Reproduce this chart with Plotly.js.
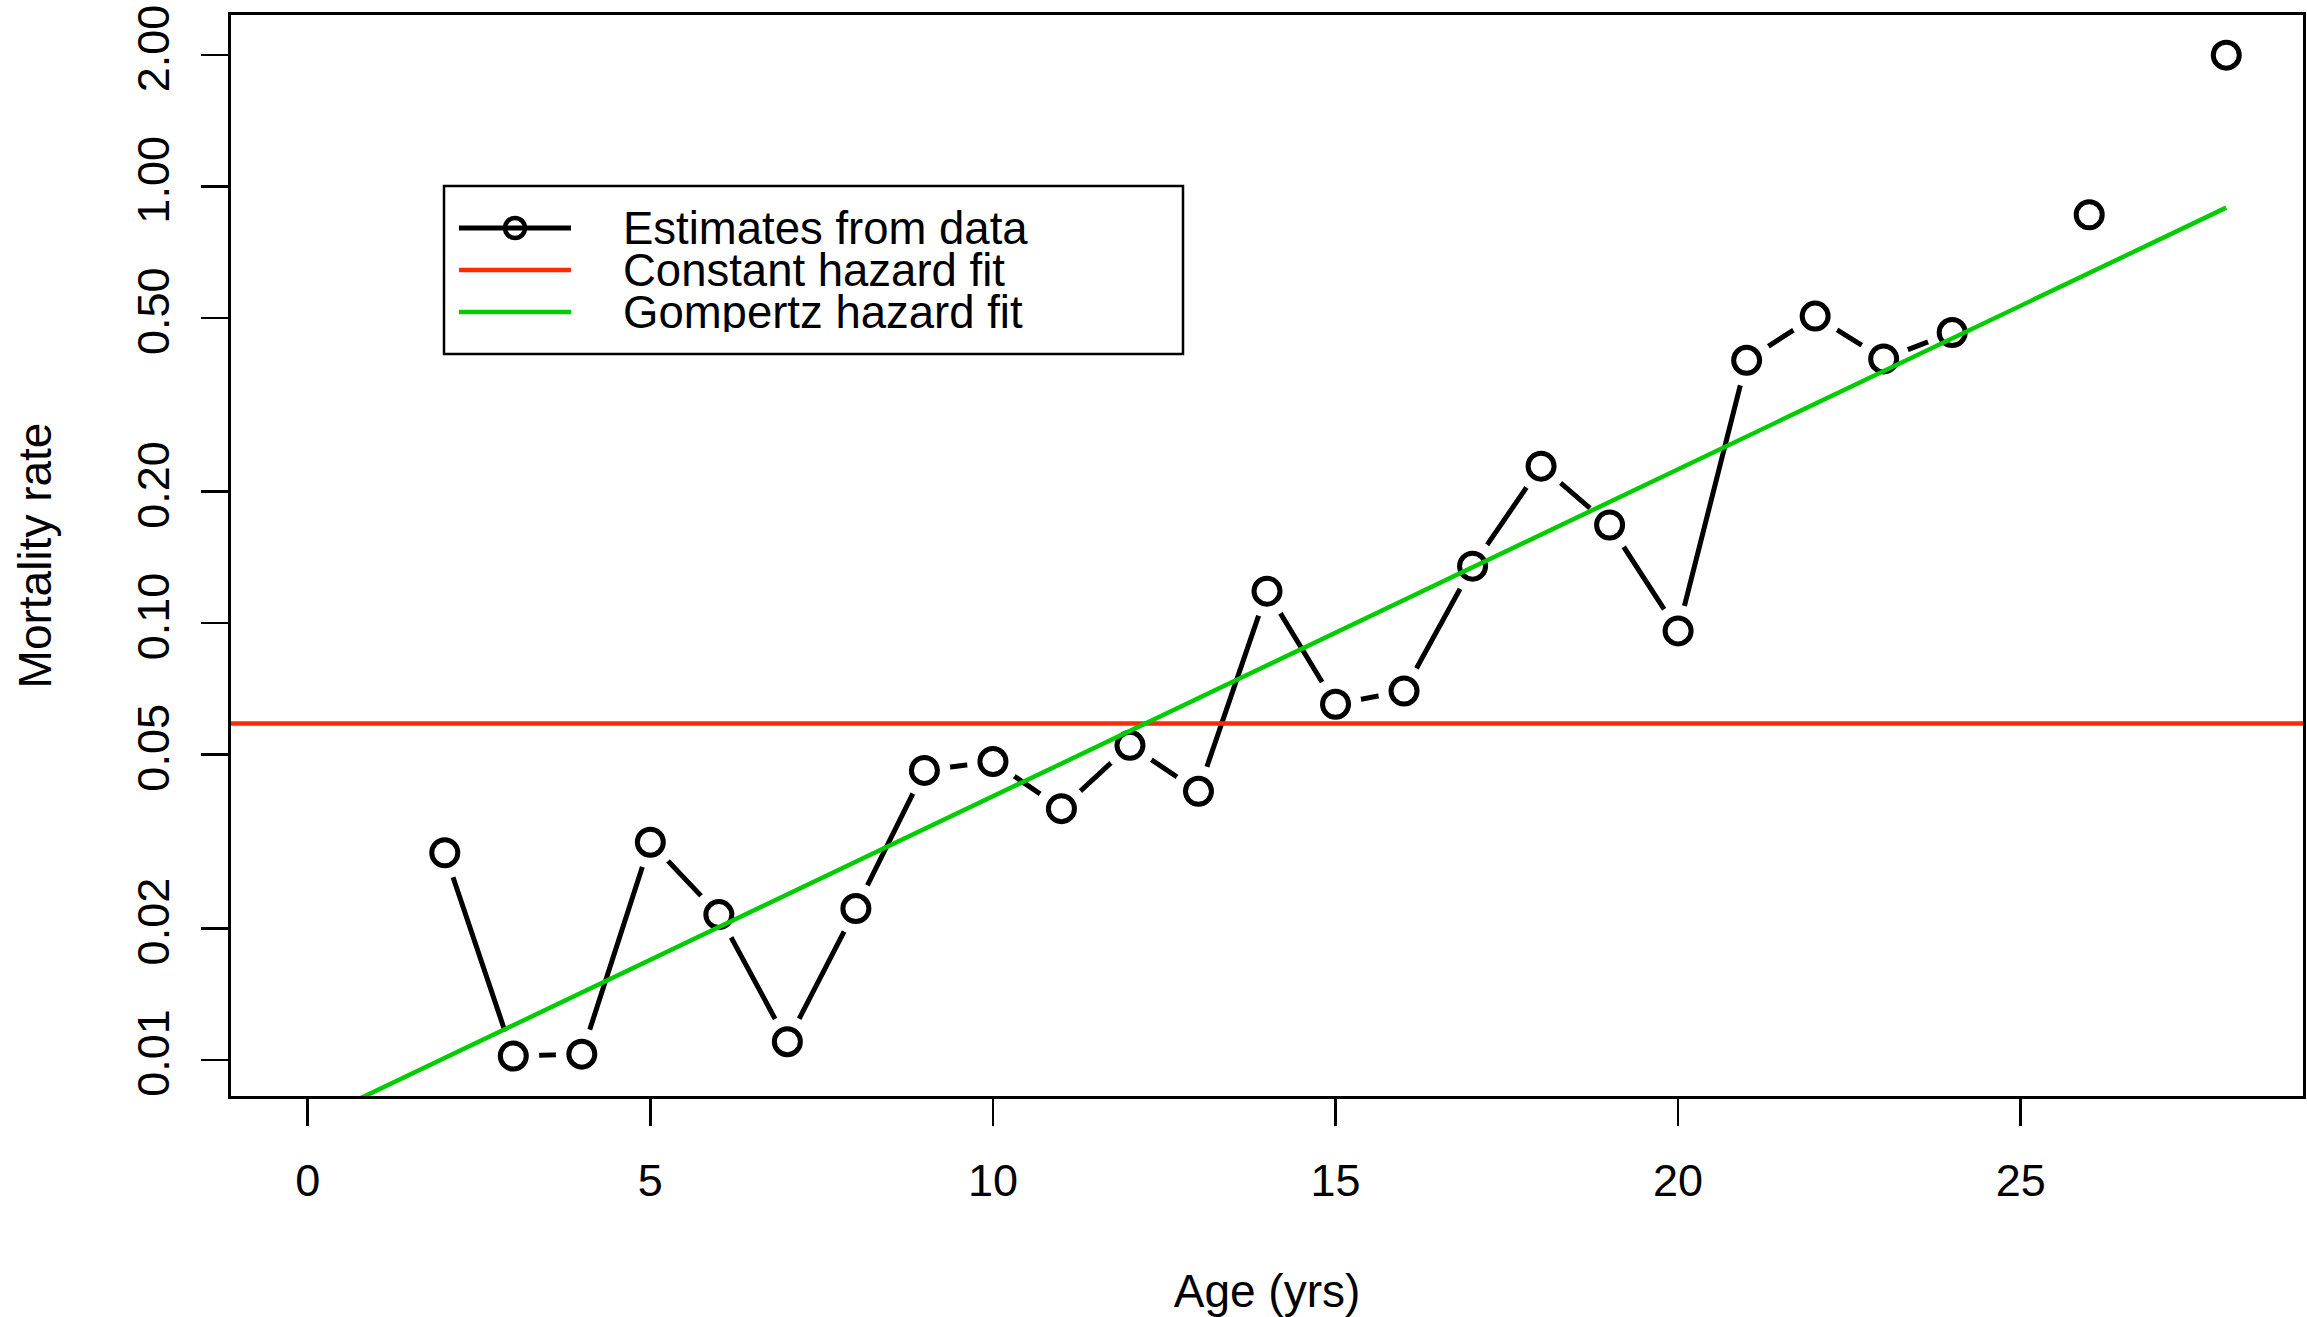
<!DOCTYPE html>
<html>
<head>
<meta charset="utf-8">
<script src="https://cdn.plot.ly/plotly-3.0.1.min.js"></script>
<style>html,body{margin:0;padding:0;background:#fff;}#chart{width:2307px;height:1317px;}</style>
</head>
<body>
<div id="chart"></div>
<script>
// ---- data ----
const ages = [2, 3, 4, 5, 6, 7, 8, 9, 10, 11, 12, 13, 14, 15, 16, 17, 18, 19, 20, 21, 22, 23, 24, 25, 26, 27, 28];
const mortality = [0.0298, 0.0102, 0.0103, 0.0315, 0.0215, 0.0110, 0.0222, 0.0460, 0.0482, 0.0376, 0.0525, 0.0412,
                   0.1184, 0.0652, 0.0699, 0.1351, 0.2289, 0.1678, 0.0960, 0.400, 0.505, 0.403, 0.463, null, 0.862, null, 2.00];
const constantHazard = 0.0589;
const gompAges = [0, 28];
const gompRates = [0.00715, 0.895];
const xTickVals = [0, 5, 10, 15, 20, 25];
const yTickVals = [0.01, 0.02, 0.05, 0.10, 0.20, 0.50, 1.00, 2.00];
const yTickText = ["0.01", "0.02", "0.05", "0.10", "0.20", "0.50", "1.00", "2.00"];
const legendLabels = ["Estimates from data", "Constant hazard fit", "Gompertz hazard fit"];
const xRange = [-1.12, 29.12];
const yRangeLog = [-2.083, 0.393];

// ---- styling ----
const FONT = "Liberation Sans, Arial, Helvetica, sans-serif";
const RED = "#ff2a00";
const GREEN = "#00cc00";
const W = 2307, H = 1317;
const M = {l: 231, r: 4, t: 15, b: 221};
const PW = W - M.l - M.r, PH = H - M.t - M.b;
const px = v => (v - M.l) / PW;           // pixel -> paper x
const py = v => (H - M.b - v) / PH;       // pixel -> paper y

const traces = [
  {x: ages, y: mortality, mode: "lines", connectgaps: false,
   line: {color: "black", width: 5}, showlegend: false, hoverinfo: "skip"},
  {x: ages, y: mortality, mode: "markers",
   marker: {symbol: "circle", size: 52, color: "white", line: {width: 0}}, showlegend: false, hoverinfo: "skip"},
  {x: ages, y: mortality, mode: "markers", name: legendLabels[0],
   marker: {symbol: "circle-open", size: 26, color: "black", line: {width: 5, color: "black"}}, showlegend: false},
  {x: xRange, y: [constantHazard, constantHazard], mode: "lines", name: legendLabels[1],
   line: {color: RED, width: 4.5}, showlegend: false},
  {x: gompAges, y: gompRates, mode: "lines", name: legendLabels[2],
   line: {color: GREEN, width: 4.5}, showlegend: false}
];

// ---- custom legend (R-style) ----
const lg = {left: 444, right: 1183, top: 186, bottom: 354, rows: [228, 270, 312], l0: 459, l1: 571, cx: 515, tx: 622};
const legColors = ["black", RED, GREEN];
const shapes = [
  {type: "rect", xref: "paper", yref: "paper", x0: px(lg.left), x1: px(lg.right), y0: py(lg.bottom), y1: py(lg.top),
   line: {color: "black", width: 2.5}, fillcolor: "white", layer: "above"}
];
const annotations = [];
legendLabels.forEach((lab, i) => {
  shapes.push({type: "line", xref: "paper", yref: "paper", x0: px(lg.l0), x1: px(lg.l1), y0: py(lg.rows[i]), y1: py(lg.rows[i]),
               line: {color: legColors[i], width: i === 0 ? 5 : 4.5}, layer: "above"});
  annotations.push({xref: "paper", yref: "paper", x: px(lg.tx), y: py(lg.rows[i]), xanchor: "left", yanchor: "middle",
                    text: lab, showarrow: false, height: 40, borderpad: 0,
                    font: {family: FONT, size: 45.5, color: "black"}});
});
shapes.push({type: "circle", xref: "paper", yref: "paper", x0: px(lg.cx - 10), x1: px(lg.cx + 10),
             y0: py(lg.rows[0] + 10), y1: py(lg.rows[0] - 10), line: {color: "black", width: 4.5}, layer: "above"});

const axisCommon = {
  showgrid: false, zeroline: false, showline: true, mirror: true, linecolor: "black", linewidth: 3,
  ticks: "outside", ticklen: 27, tickwidth: 2.5, tickcolor: "black",
  tickfont: {family: FONT, size: 45, color: "black"}
};

const layout = {
  width: W, height: H, margin: M,
  paper_bgcolor: "white", plot_bgcolor: "white",
  font: {family: FONT, color: "black"},
  xaxis: Object.assign({}, axisCommon, {
    range: xRange, tickmode: "array", tickvals: xTickVals, ticktext: xTickVals.map(String),
    ticklabelstandoff: 16,
    title: {text: "Age (yrs)", font: {family: FONT, size: 46, color: "black"}, standoff: 74}
  }),
  yaxis: Object.assign({}, axisCommon, {
    type: "log", range: yRangeLog, tickmode: "array", tickvals: yTickVals, ticktext: yTickText,
    tickangle: -90, ticklabelstandoff: 14,
    title: {text: "Mortality rate", font: {family: FONT, size: 46, color: "black"}, standoff: 62}
  }),
  shapes: shapes,
  annotations: annotations,
  showlegend: false
};

Plotly.newPlot("chart", traces, layout, {displayModeBar: false, staticPlot: true});
</script>
</body>
</html>
